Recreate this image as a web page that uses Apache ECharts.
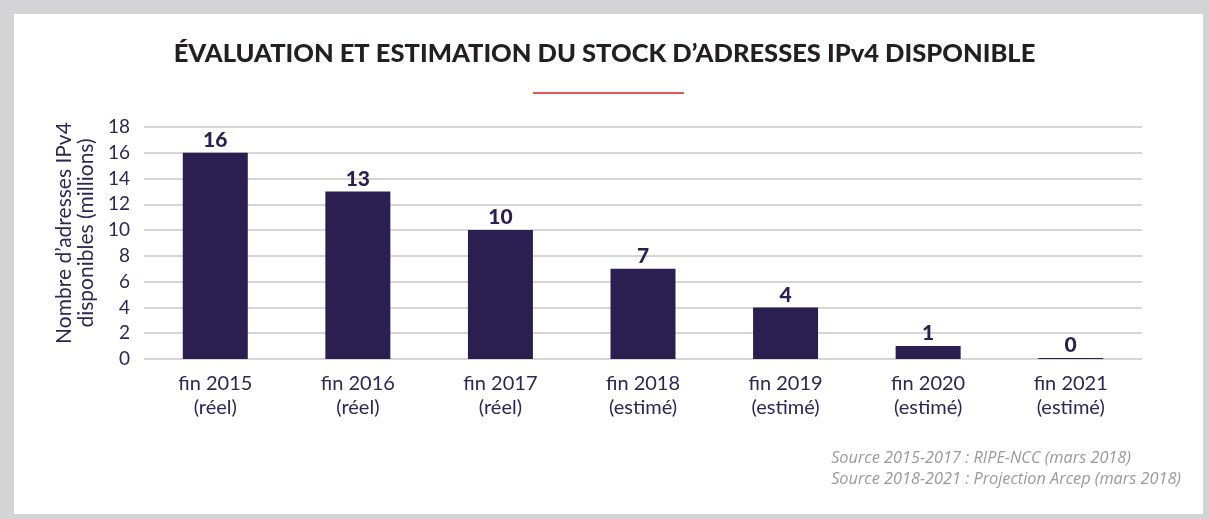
<!DOCTYPE html>
<html>
<head>
<meta charset="utf-8">
<script src="https://cdn.jsdelivr.net/npm/echarts@6/dist/echarts.min.js"></script>
<style>
  html, body { margin: 0; padding: 0; background: #d4d4d6; }
  #chart { width: 1209px; height: 519px; }
</style>
</head>
<body>
<div id="chart"></div>
<script>
// Stock of available IPv4 addresses (millions), end of year
const categories = [
  'fin 2015\n(réel)', 'fin 2016\n(réel)', 'fin 2017\n(réel)',
  'fin 2018\n(estimé)', 'fin 2019\n(estimé)', 'fin 2020\n(estimé)', 'fin 2021\n(estimé)'
];
const stock = [16, 13, 10, 7, 4, 1, 0];
const yTicks = [0, 2, 4, 6, 8, 10, 12, 14, 16, 18];

const titleText = 'ÉVALUATION ET ESTIMATION DU STOCK D’ADRESSES IPv4 DISPONIBLE';
const yAxisTitle = 'Nombre d’adresses IPv4\ndisponibles (millions)';
const sourceLines = [
  'Source 2015-2017 : RIPE-NCC (mars 2018)',
  'Source 2018-2021 : Projection Arcep (mars 2018)'
];

const navy = '#2b1f52';
const textNavy = '#2e2656';

const chart = echarts.init(document.getElementById('chart'), null, { renderer: 'canvas' });

chart.setOption({
  backgroundColor: '#d4d4d6',
  animation: false,
  graphic: [
    { type: 'rect', z: -10, shape: { x: 14, y: 14, width: 1189, height: 500 }, style: { fill: '#ffffff' } },
    { type: 'rect', shape: { x: 533, y: 92, width: 151, height: 2 }, style: { fill: '#e2575a' } },
    {
      type: 'text', left: 'center', top: 41,
      style: { text: titleText, font: '900 25.5px Lato', fill: '#231f20' }
    },
    {
      type: 'text', right: 28, top: 448,
      style: {
        text: sourceLines.join('\n'), font: 'italic 16.3px "Open Sans"', fill: '#9a9a9a',
        align: 'left', lineHeight: 21
      }
    }
  ],
  grid: { left: 144, right: 67, top: 127, bottom: 160, containLabel: false },
  xAxis: {
    type: 'category',
    data: categories,
    axisLine: { show: false },
    axisTick: { show: false },
    axisLabel: {
      color: textNavy, fontFamily: 'Lato', fontSize: 20, lineHeight: 24, margin: 13
    }
  },
  yAxis: {
    type: 'value',
    min: 0, max: 18, interval: 2,
    name: yAxisTitle,
    nameLocation: 'middle',
    nameRotate: 90,
    nameGap: 40,
    nameTextStyle: {
      color: textNavy, fontFamily: 'Lato', fontSize: 21, lineHeight: 22,
      padding: [0, 0, 0, 20]
    },
    axisLine: { show: false },
    axisTick: { show: false },
    axisLabel: {
      color: textNavy, fontFamily: 'Lato', fontSize: 19, margin: 14,
      formatter: v => (yTicks.includes(v) ? String(v) : '')
    },
    splitLine: { lineStyle: { color: '#c9c9c9', width: 1.5 } }
  },
  series: [{
    type: 'bar',
    data: stock,
    barWidth: 65,
    barMinHeight: 1,
    itemStyle: { color: navy },
    label: {
      show: true, position: 'top', distance: 2,
      color: navy, fontFamily: 'Lato', fontWeight: 900, fontSize: 21
    }
  }]
});
</script>
</body>
</html>
